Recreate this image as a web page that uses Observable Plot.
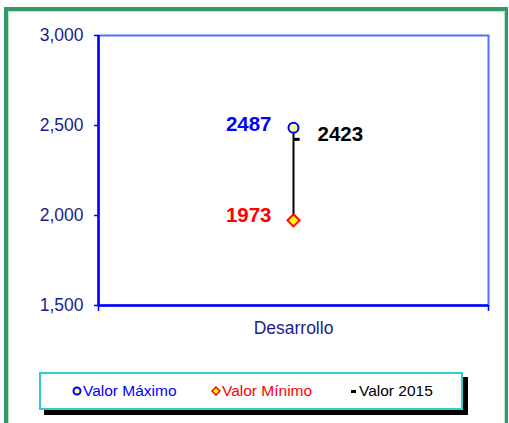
<!DOCTYPE html>
<html><head><meta charset="utf-8">
<script src="https://cdn.jsdelivr.net/npm/d3@7"></script>
<script src="https://cdn.jsdelivr.net/npm/@observablehq/plot@0.6"></script>
<style>
body{margin:0;background:#fff;font-family:"Liberation Sans",Arial,sans-serif;width:509px;height:423px;overflow:hidden;position:relative}
#frame{position:absolute;left:4px;top:7px;width:497px;height:440px;border:4px solid #339966;border-right-width:3px;}
#inner{position:absolute;left:0;top:0;right:0;bottom:0;border:1px solid #bfe3cc;}
#chart{position:absolute;left:0;top:0}
#legend{position:absolute;left:39px;top:372px;width:420px;height:34px;border:2px solid #33cccc;background:#fff;box-shadow:5px 5px 0 #000;font-size:15.5px;}
.item{position:absolute;top:8px;display:flex;align-items:center;white-space:nowrap}
.item svg{margin-right:1px}
</style></head>
<body>
<div id="frame"><div id="inner"></div></div>
<div id="chart"></div>
<div id="legend"></div>
<script>
const categories = ["Desarrollo"];
const maxValues = [2487];
const minValues = [1973];
const values2015 = [2423];
const yTicks = [1500, 2000, 2500, 3000];
const seriesNames = ["Valor Máximo", "Valor Mínimo", "Valor 2015"];

const rows = categories.map((c, i) => ({cat: c, i: i + 0.5, max: maxValues[i], min: minValues[i], v: values2015[i]}));
const edges = d3.range(categories.length + 1);

const dash = {draw(ctx, size) { const r = Math.sqrt(size / Math.PI); ctx.moveTo(0, -1.5); ctx.lineTo(2.2 * r, -1.5); ctx.lineTo(2.2 * r, 1.5); ctx.lineTo(0, 1.5); ctx.closePath(); }};

const navy = "#1c1c8c";
const fmt = d3.format(",.0f");
const chart = Plot.plot({
  width: 509, height: 340,
  marginLeft: 98, marginRight: 21, marginTop: 35, marginBottom: 35,
  style: {fontFamily: "Liberation Sans, Arial, sans-serif", fontSize: "17.5px", background: "transparent", overflow: "visible"},
  x: {type: "linear", domain: [0, categories.length], axis: null},
  y: {type: "linear", domain: [1500, 3000], axis: null},
  marks: [
    Plot.frame({stroke: "#4d73ff", strokeWidth: 2}),
    Plot.ruleX([0], {x: d => d, stroke: "#0000ff", strokeWidth: 2.5}),
    Plot.ruleY([1500], {y: d => d, stroke: "#0000ff", strokeWidth: 2.5}),
    Plot.axisY({ticks: yTicks, tickFormat: fmt, tickSize: 4, tickPadding: 11, stroke: "#0000ff", color: navy, label: null, fontSize: 17.5, strokeWidth: 1.5}),
    Plot.ruleX(edges, {x: d => d, y1: 1500, y2: 1500, insetBottom: -6, stroke: "#0000ff", strokeWidth: 1.5}),
    Plot.text(rows, {x: "i", y: 1500, text: "cat", dy: 23, fill: navy, fontSize: 17.5}),
    Plot.ruleX(rows, {x: "i", y1: "max", y2: "min", stroke: "#000", strokeWidth: 2}),
    Plot.dot(rows, {x: "i", y: "v", symbol: dash, r: 2.8, fill: "#000", stroke: "none"}),
    Plot.dot(rows, {x: "i", y: "max", r: 5, fill: "#ffff99", stroke: "#0000ff", strokeWidth: 2}),
    Plot.dot(rows, {x: "i", y: "min", symbol: "diamond2", r: 5.5, fill: "#ffff00", stroke: "#ff0000", strokeWidth: 1.8}),
    Plot.text(rows, {x: "i", y: "max", text: d => String(d.max), textAnchor: "end", dx: -22, dy: -3, fill: "#0000ff", fontWeight: "bold", fontSize: 20.5}),
    Plot.text(rows, {x: "i", y: "min", text: d => String(d.min), textAnchor: "end", dx: -22, dy: -5, fill: "#ff0000", fontWeight: "bold", fontSize: 20.5}),
    Plot.text(rows, {x: "i", y: "v", text: d => String(d.v), textAnchor: "start", dx: 24, dy: -5, fill: "#000", fontWeight: "bold", fontSize: 20.5})
  ]
});
document.getElementById("chart").appendChild(chart);

const legend = document.getElementById("legend");
const items = [
  {left: 31, color: "#0000ff", svg: '<svg width="10" height="10"><circle cx="5" cy="5" r="3.5" fill="#ffff99" stroke="#0000ff" stroke-width="2"/></svg>'},
  {left: 170, color: "#ff0000", svg: '<svg width="10" height="10"><path d="M5 1 L9 5 L5 9 L1 5 Z" fill="#ffff00" stroke="#ff0000" stroke-width="1.5"/></svg>'},
  {left: 309, color: "#000", svg: '<svg width="8" height="10"><rect x="1" y="4" width="5" height="3" fill="#000"/></svg>'}
];
items.forEach((it, k) => {
  const d = document.createElement("div");
  d.className = "item";
  d.style.left = it.left + "px";
  d.style.color = it.color;
  d.innerHTML = it.svg + "<span>" + seriesNames[k] + "</span>";
  legend.appendChild(d);
});
</script>
</body></html>
